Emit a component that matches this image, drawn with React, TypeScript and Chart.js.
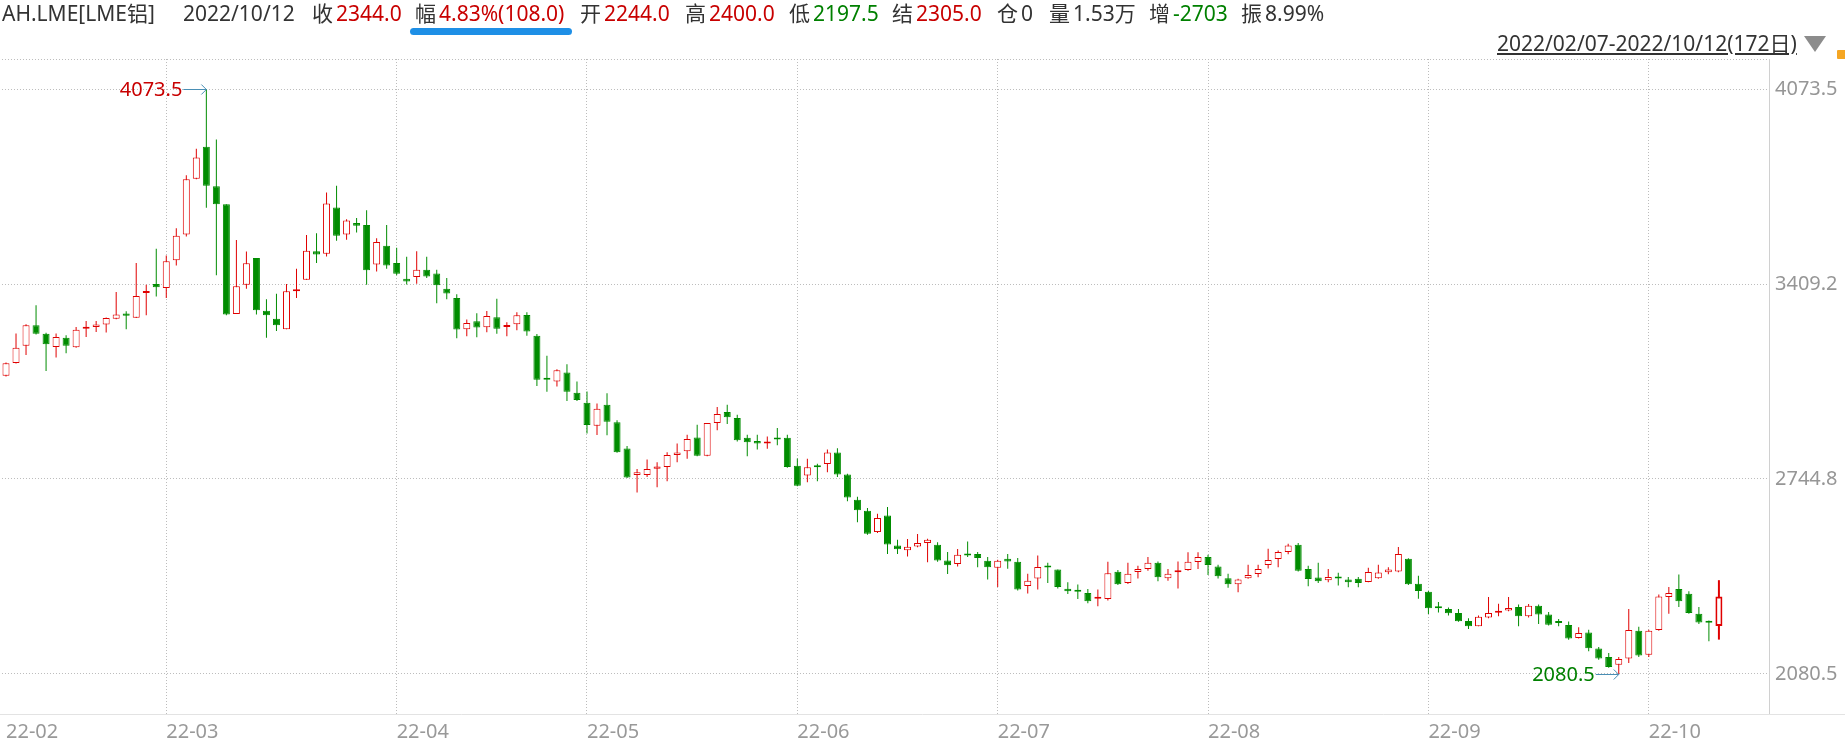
import React, { useEffect, useRef } from 'react';
import { Chart, registerables } from 'chart.js';

Chart.register(...registerables);

// ---- data (trading-day index 0 = 2022/02/07 ... 171 = 2022/10/12) ----
const openPrices = [
  3097, 3140, 3199, 3269, 3240, 3195, 3226, 3194, 3257, 3263,
  3271, 3291, 3309, 3294, 3379, 3409, 3396, 3490, 3578, 3768,
  3877, 3742, 3681, 3307, 3407, 3498, 3318, 3291, 3255, 3385,
  3424, 3521, 3512, 3670, 3578, 3617, 3610, 3476, 3540, 3481,
  3427, 3433, 3458, 3445, 3393, 3362, 3255, 3282, 3262, 3296,
  3263, 3272, 3304, 3233, 3087, 3077, 3108, 3039, 3005, 2926,
  2998, 2938, 2849, 2758, 2758, 2780, 2786, 2827, 2839, 2886,
  2824, 2936, 2973, 2953, 2885, 2874, 2866, 2885, 2885, 2790,
  2757, 2788, 2796, 2835, 2760, 2674, 2637, 2564, 2620, 2518,
  2502, 2515, 2527, 2521, 2467, 2455, 2487, 2489, 2466, 2442,
  2473, 2463, 2380, 2406, 2448, 2436, 2371, 2364, 2356, 2337,
  2336, 2429, 2390, 2428, 2438, 2459, 2407, 2427, 2435, 2462,
  2479, 2447, 2407, 2386, 2407, 2421, 2452, 2472, 2496, 2521,
  2438, 2409, 2400, 2411, 2402, 2405, 2394, 2407, 2427, 2430,
  2473, 2388, 2361, 2309, 2302, 2288, 2261, 2243, 2273, 2289,
  2297, 2309, 2277, 2313, 2283, 2258, 2247, 2203, 2222, 2167,
  2138, 2112, 2133, 2228, 2146, 2230, 2343, 2370, 2354, 2286,
  2259, 2244,
];
const highPrices = [
  3142, 3241, 3272, 3337, 3243, 3241, 3235, 3263, 3283, 3283,
  3295, 3382, 3316, 3481, 3407, 3529, 3506, 3599, 3780, 3870,
  4073.5, 3902, 3681, 3559, 3520, 3498, 3357, 3376, 3409, 3461,
  3576, 3582, 3721, 3744, 3630, 3634, 3661, 3565, 3610, 3533,
  3502, 3521, 3502, 3458, 3430, 3374, 3288, 3310, 3317, 3359,
  3279, 3313, 3313, 3239, 3165, 3119, 3136, 3077, 3043, 3002,
  3037, 2945, 2857, 2779, 2811, 2802, 2836, 2866, 2896, 2930,
  2936, 2990, 2998, 2964, 2896, 2896, 2890, 2919, 2896, 2815,
  2814, 2797, 2845, 2850, 2763, 2684, 2646, 2626, 2649, 2538,
  2540, 2557, 2541, 2529, 2496, 2506, 2532, 2496, 2479, 2470,
  2489, 2476, 2422, 2484, 2459, 2436, 2393, 2385, 2370, 2368,
  2463, 2435, 2459, 2449, 2479, 2464, 2438, 2464, 2495, 2495,
  2487, 2453, 2422, 2405, 2453, 2453, 2507, 2501, 2524, 2527,
  2449, 2459, 2438, 2425, 2411, 2411, 2442, 2453, 2444, 2513,
  2475, 2415, 2363, 2326, 2307, 2302, 2270, 2280, 2343, 2320,
  2343, 2317, 2319, 2317, 2292, 2268, 2259, 2240, 2231, 2172,
  2152, 2138, 2302, 2241, 2231, 2351, 2377, 2419, 2362, 2309,
  2263, 2400,
];
const lowPrices = [
  3094, 3138, 3167, 3237, 3113, 3159, 3173, 3192, 3229, 3246,
  3244, 3289, 3255, 3293, 3303, 3367, 3362, 3472, 3571, 3766,
  3669, 3439, 3303, 3307, 3393, 3305, 3226, 3249, 3255, 3362,
  3424, 3481, 3503, 3557, 3560, 3585, 3407, 3452, 3461, 3439,
  3408, 3410, 3430, 3344, 3357, 3224, 3231, 3228, 3245, 3240,
  3231, 3252, 3233, 3062, 3042, 3060, 3011, 3011, 2900, 2895,
  2894, 2834, 2748, 2699, 2752, 2717, 2737, 2802, 2814, 2822,
  2822, 2911, 2932, 2873, 2822, 2845, 2848, 2860, 2783, 2720,
  2734, 2737, 2768, 2752, 2669, 2597, 2555, 2561, 2489, 2489,
  2481, 2512, 2461, 2463, 2421, 2447, 2479, 2444, 2402, 2377,
  2439, 2365, 2355, 2368, 2390, 2372, 2353, 2336, 2321, 2311,
  2331, 2384, 2387, 2406, 2432, 2396, 2398, 2372, 2432, 2438,
  2418, 2406, 2374, 2359, 2405, 2410, 2440, 2444, 2488, 2430,
  2379, 2390, 2393, 2382, 2376, 2376, 2393, 2405, 2420, 2427,
  2384, 2337, 2285, 2290, 2280, 2258, 2234, 2243, 2270, 2277,
  2294, 2243, 2273, 2251, 2246, 2243, 2197, 2201, 2158, 2129,
  2102, 2080.5, 2118, 2138, 2138, 2228, 2286, 2309, 2286, 2251,
  2192, 2197.5,
];
const closePrices = [
  3139, 3192, 3269, 3240, 3204, 3229, 3199, 3253, 3262, 3271,
  3293, 3305, 3301, 3368, 3382, 3398, 3487, 3574, 3766, 3840,
  3744, 3681, 3305, 3402, 3480, 3320, 3303, 3269, 3385, 3390,
  3523, 3510, 3684, 3574, 3626, 3608, 3456, 3552, 3472, 3444,
  3418, 3458, 3435, 3405, 3377, 3254, 3276, 3261, 3300, 3257,
  3267, 3303, 3247, 3083, 3083, 3115, 3042, 3014, 2929, 2984,
  2940, 2836, 2750, 2768, 2779, 2787, 2827, 2835, 2881, 2824,
  2936, 2966, 2955, 2877, 2870, 2866, 2870, 2879, 2786, 2722,
  2785, 2785, 2835, 2760, 2682, 2638, 2558, 2612, 2522, 2505,
  2514, 2527, 2538, 2467, 2451, 2487, 2484, 2476, 2444, 2466,
  2464, 2368, 2398, 2445, 2443, 2377, 2362, 2361, 2328, 2340,
  2424, 2386, 2422, 2438, 2459, 2410, 2422, 2430, 2463, 2479,
  2452, 2413, 2386, 2402, 2418, 2438, 2469, 2496, 2518, 2432,
  2404, 2396, 2411, 2406, 2393, 2390, 2428, 2426, 2436, 2489,
  2386, 2363, 2304, 2304, 2287, 2260, 2243, 2275, 2288, 2293,
  2305, 2277, 2313, 2283, 2248, 2254, 2201, 2220, 2168, 2133,
  2104, 2131, 2230, 2143, 2228, 2344, 2356, 2328, 2288, 2256,
  2255, 2344,
];

const monthTickIndex = [0, 16, 39, 58, 79, 99, 120, 142, 164];
const monthTickLabels = ['22-02', '22-03', '22-04', '22-05', '22-06', '22-07', '22-08', '22-09', '22-10'];
const yTickValues = [2080.5, 2744.8, 3409.2, 4073.5];
const yMin = 1944;
const yMax = 4176;
const xMin = -0.4;
const xMax = 176;

const headerItems = [
  { label: 'AH.LME[LME铝]', value: '', tone: 'plain' },
  { label: '2022/10/12', value: '', tone: 'plain' },
  { label: '收', value: '2344.0', tone: 'up' },
  { label: '幅', value: '4.83%(108.0)', tone: 'up' },
  { label: '开', value: '2244.0', tone: 'up' },
  { label: '高', value: '2400.0', tone: 'up' },
  { label: '低', value: '2197.5', tone: 'down' },
  { label: '结', value: '2305.0', tone: 'up' },
  { label: '仓', value: '0', tone: 'plain' },
  { label: '量', value: '1.53万', tone: 'plain' },
  { label: '增', value: '-2703', tone: 'down' },
  { label: '振', value: '8.99%', tone: 'plain' },
];
const headerX = [2, 183, 312, 415, 580, 685, 789, 892, 997, 1049, 1149, 1241];
const rangeText = '2022/02/07-2022/10/12(172日)';

const RED = '#e00000';
const GREEN = '#008c00';
const TEXT_RED = '#c80000';
const TEXT_GREEN = '#008000';
const GRID = '#bcbcbc';
const FONT = "'Noto Sans', 'Noto Sans CJK SC', sans-serif";

const extrasPlugin = {
  id: 'extras',
  afterDraw(chart: any) {
    const { ctx, chartArea, scales } = chart;
    const xs = scales.x;
    const ys = scales.y;
    ctx.save();
    // top dotted border
    ctx.strokeStyle = GRID;
    ctx.lineWidth = 1;
    ctx.setLineDash([1, 2]);
    ctx.beginPath();
    ctx.moveTo(chartArea.left, Math.round(chartArea.top) + 0.5);
    ctx.lineTo(chartArea.right, Math.round(chartArea.top) + 0.5);
    ctx.stroke();
    // bottom solid axis line across full width
    ctx.setLineDash([]);
    ctx.strokeStyle = '#e3e3e3';
    ctx.beginPath();
    ctx.moveTo(0, Math.round(chartArea.bottom) + 0.5);
    ctx.lineTo(chart.width, Math.round(chartArea.bottom) + 0.5);
    ctx.stroke();

    // extreme annotations
    let iMax = 0;
    let iMin = 0;
    highPrices.forEach((v, i) => { if (v > highPrices[iMax]) iMax = i; });
    lowPrices.forEach((v, i) => { if (v < lowPrices[iMin]) iMin = i; });
    const marks = [
      { i: iMax, v: highPrices[iMax], color: TEXT_RED },
      { i: iMin, v: lowPrices[iMin], color: TEXT_GREEN },
    ];
    ctx.font = `20px ${FONT}`;
    ctx.textAlign = 'right';
    ctx.textBaseline = 'middle';
    marks.forEach((m) => {
      const px = xs.getPixelForValue(m.i);
      const py = Math.round(ys.getPixelForValue(m.v)) + 0.5;
      ctx.strokeStyle = '#4a8fb5';
      ctx.lineWidth = 1;
      ctx.beginPath();
      ctx.moveTo(px - 23, py);
      ctx.lineTo(px, py);
      ctx.moveTo(px - 5, py - 5);
      ctx.lineTo(px, py);
      ctx.lineTo(px - 5, py + 5);
      ctx.stroke();
      ctx.fillStyle = m.color;
      ctx.fillText(m.v.toFixed(1), px - 24, py + 1);
    });
    ctx.restore();
  },
};

export default function App() {
  const canvasRef = useRef<HTMLCanvasElement | null>(null);

  useEffect(() => {
    if (!canvasRef.current) return;
    Chart.defaults.font.family = FONT;
    const idx = openPrices.map((_, i) => i);
    const lastI = idx.length - 1;
    const isUp = (i: number) => closePrices[i] >= openPrices[i];
    const wickData = idx.slice(0, lastI).map((i) => ({ x: i, y: [lowPrices[i], highPrices[i]] }));
    const lastWickData = [{ x: lastI, y: [lowPrices[lastI], highPrices[lastI]] }];
    const bodyData = idx.map((i) => ({ x: i, y: [openPrices[i], closePrices[i]] }));

    const chart = new Chart(canvasRef.current, {
      type: 'bar',
      data: {
        datasets: [
          {
            data: wickData as any,
            barThickness: 1,
            grouped: false,
            order: 3,
            borderWidth: 0,
            inflateAmount: 0,
            backgroundColor: (c: any) => (isUp(c.dataIndex) ? RED : GREEN),
          } as any,
          {
            data: lastWickData as any,
            barThickness: 2,
            grouped: false,
            order: 2,
            borderWidth: 0,
            inflateAmount: 0,
            backgroundColor: isUp(lastI) ? RED : GREEN,
          } as any,
          {
            data: bodyData as any,
            barThickness: 7,
            grouped: false,
            order: 1,
            minBarLength: 2,
            inflateAmount: 0,
            borderSkipped: false,
            backgroundColor: (c: any) => (isUp(c.dataIndex) ? '#ffffff' : GREEN),
            borderColor: (c: any) => (isUp(c.dataIndex) ? RED : GREEN),
            borderWidth: (c: any) => (c.dataIndex === lastI ? 2 : 1),
          } as any,
        ],
      },
      options: {
        animation: false,
        responsive: true,
        maintainAspectRatio: false,
        events: [],
        layout: { padding: { top: 59, left: 0, right: 0, bottom: 0 } },
        plugins: { legend: { display: false }, tooltip: { enabled: false }, title: { display: false } },
        scales: {
          x: {
            type: 'linear',
            min: xMin,
            max: xMax,
            offset: false,
            afterBuildTicks: (s: any) => {
              s.ticks = monthTickIndex.map((v) => ({ value: v }));
            },
            afterFit: (s: any) => {
              s.height = 30;
            },
            ticks: {
              callback: (_v: any, i: number) => monthTickLabels[i],
              align: 'start',
              autoSkip: false,
              maxRotation: 0,
              color: '#999999',
              font: { size: 20 },
              padding: 6,
            },
            grid: {
              offset: false,
              drawTicks: false,
              color: (c: any) => (c.index === 0 ? 'rgba(0,0,0,0)' : GRID),
            },
            border: { display: false, dash: [1, 2] },
          },
          y: {
            type: 'linear',
            position: 'right',
            min: yMin,
            max: yMax,
            afterBuildTicks: (s: any) => {
              s.ticks = yTickValues.map((v) => ({ value: v }));
            },
            afterFit: (s: any) => {
              s.width = 76;
            },
            ticks: {
              callback: (v: any) => Number(v).toFixed(1),
              color: '#969696',
              font: { size: 20 },
              padding: 6,
            },
            grid: { drawTicks: false, color: GRID },
            border: { display: true, color: '#d0d0d0', dash: [1, 2] },
          },
        },
      } as any,
      plugins: [extrasPlugin],
    });
    return () => chart.destroy();
  }, []);

  const textBase: React.CSSProperties = {
    position: 'absolute',
    fontFamily: FONT,
    fontSize: 21,
    lineHeight: '21px',
    whiteSpace: 'nowrap',
    color: '#333333',
  };

  return (
    <div style={{ position: 'fixed', left: 0, top: 0, width: 1845, height: 744, background: '#ffffff', overflow: 'hidden' }}>
      <div style={{ position: 'absolute', left: 0, top: 0, width: 1845, height: 744 }}>
        <canvas ref={canvasRef} />
      </div>
      {headerItems.map((h, k) => (
        <div key={k} style={{ ...textBase, left: headerX[k], top: 3 }}>
          <span>{h.label}</span>
          {h.value && (
            <span
              style={{
                marginLeft: 3,
                color: h.tone === 'up' ? TEXT_RED : h.tone === 'down' ? TEXT_GREEN : '#333333',
              }}
            >
              {h.value}
            </span>
          )}
        </div>
      ))}
      <div style={{ position: 'absolute', left: 410, top: 28, width: 162, height: 7, borderRadius: 4, background: '#1e8fe6' }} />
      <div style={{ ...textBase, left: 1497, top: 33, textDecoration: 'underline' }}>{rangeText}</div>
      <div
        style={{
          position: 'absolute',
          left: 1804,
          top: 36,
          width: 0,
          height: 0,
          borderLeft: '11px solid transparent',
          borderRight: '11px solid transparent',
          borderTop: '16px solid #8c8c8c',
        }}
      />
      <div style={{ position: 'absolute', left: 1837, top: 50, width: 10, height: 9, background: '#f5a623', borderRadius: 1 }} />
    </div>
  );
}
